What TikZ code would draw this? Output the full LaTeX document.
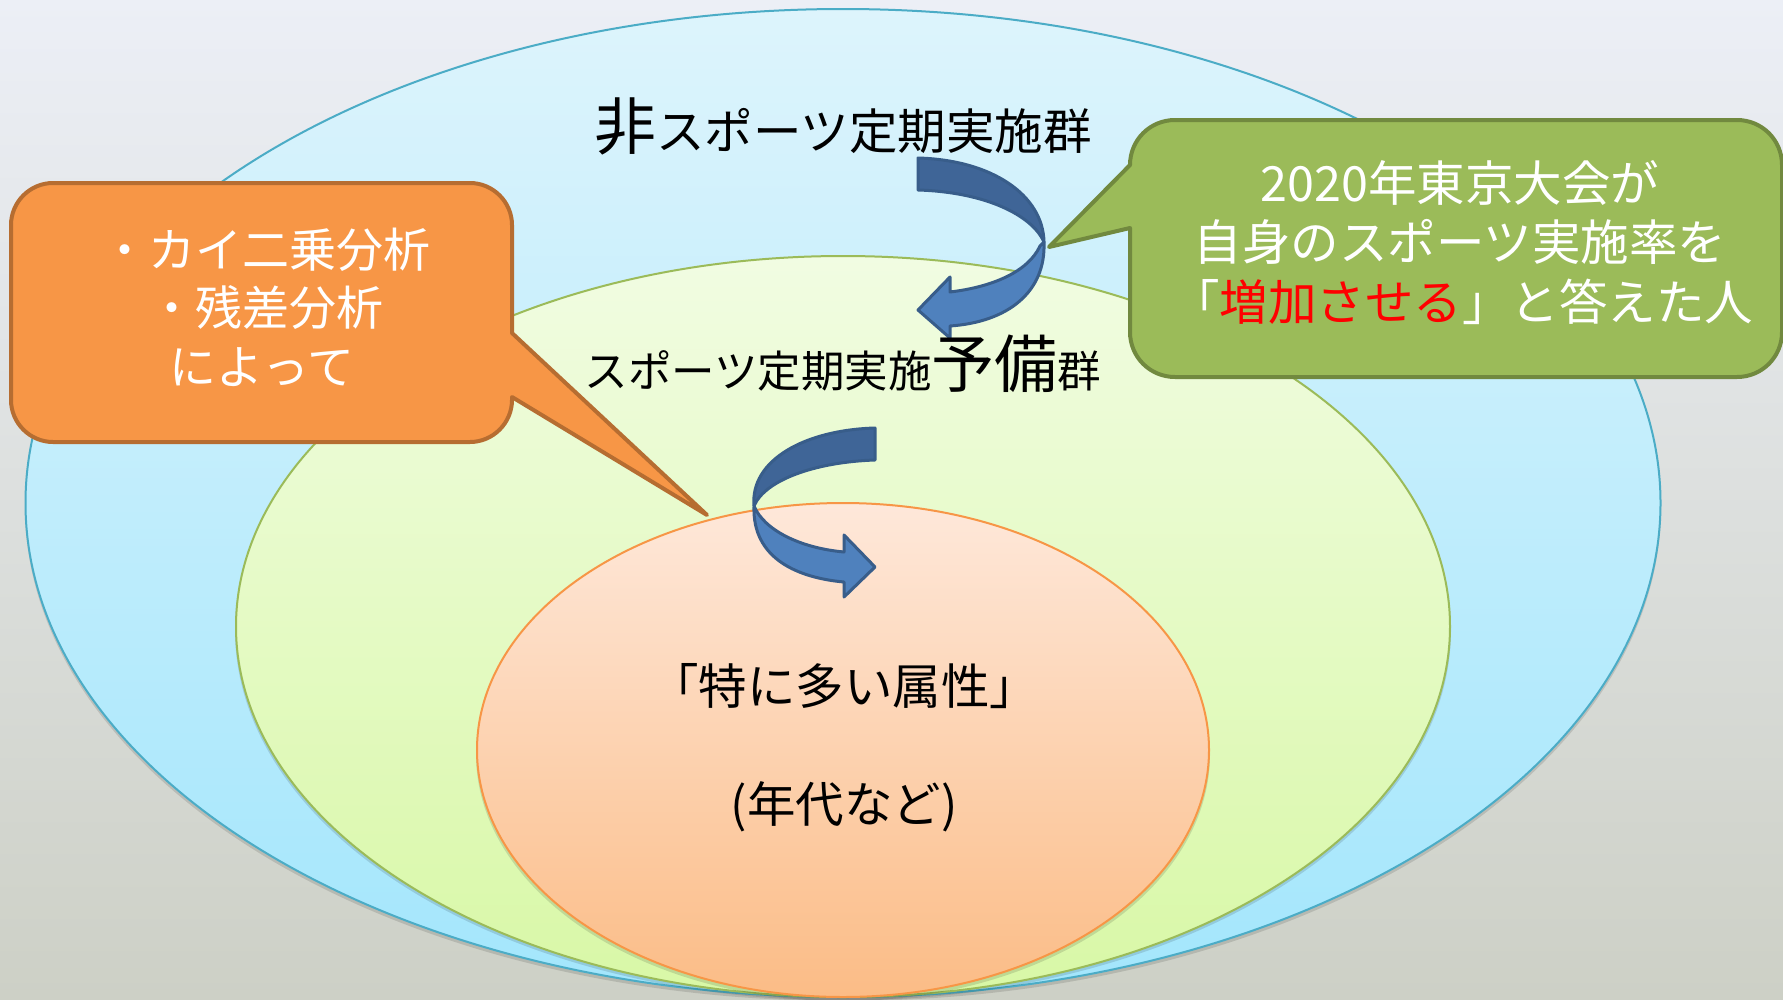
\documentclass[tikz,border=0pt]{standalone}
\usepackage{fontspec}
\setmainfont{Noto Sans CJK JP}
\definecolor{bgtop}{HTML}{ECEFF6}
\definecolor{bgbot}{HTML}{CDD0C6}
\definecolor{bluetop}{HTML}{DDF4FC}
\definecolor{bluebot}{HTML}{A3E6FC}
\definecolor{bluedraw}{HTML}{4BACC6}
\definecolor{greentop}{HTML}{F1FCE2}
\definecolor{greenbot}{HTML}{D8F8A6}
\definecolor{greendraw}{HTML}{9BBB59}
\definecolor{orangetop}{HTML}{FEE8DA}
\definecolor{orangebot}{HTML}{FBBC86}
\definecolor{orangedraw}{HTML}{F79646}
\definecolor{calloutO}{HTML}{F79646}
\definecolor{calloutOd}{HTML}{B66D31}
\definecolor{calloutG}{HTML}{9BBB59}
\definecolor{calloutGd}{HTML}{71893F}
\definecolor{arrowdark}{HTML}{3F6597}
\definecolor{arrowlight}{HTML}{4F81BD}
\definecolor{arrowline}{HTML}{385D8A}
\definecolor{redtext}{HTML}{FF0000}
\tikzset{
  ring/.style={line width=2pt},
  shadowring/.style={fill=black, opacity=0.12},
  blockarrow/.style={draw=arrowline, line width=3pt, line join=round},
  callout/.style={line width=4pt, line join=round},
  txt/.style={inner sep=0pt, anchor=base},
  wtxt/.style={txt, text=white, font=\fontsize{47}{59}\selectfont},
  gtxt/.style={txt, text=white, font=\fontsize{48.5}{59}\selectfont},
  btxt/.style={txt, text=black, font=\fontsize{48.5}{59}\selectfont}
}
\begin{document}
\begin{tikzpicture}[x=1pt,y=-1pt]
\useasboundingbox (0,0) rectangle (1783,999);
\clip (0,0) rectangle (1783,999);
% background
\path[top color=bgtop, bottom color=bgbot] (0,0) rectangle (1783,999);
% outer ellipse
\path[shadowring] (843,507) ellipse [x radius=818pt, y radius=494pt];
\path[ring, draw=bluedraw, top color=bluetop, bottom color=bluebot] (843,503) ellipse [x radius=817.5pt, y radius=494pt];
% middle ellipse
\path[shadowring] (843,630) ellipse [x radius=608pt, y radius=370.5pt];
\path[ring, draw=greendraw, top color=greentop, bottom color=greenbot] (843,626.5) ellipse [x radius=607pt, y radius=370.5pt];
% inner ellipse
\path[shadowring] (843,754) ellipse [x radius=367pt, y radius=247pt];
\path[ring, draw=orangedraw, top color=orangetop, bottom color=orangebot] (843,750) ellipse [x radius=366pt, y radius=247pt];

% curved arrow 1
\path[blockarrow, fill=arrowdark] (918,158) .. controls (992,160) and (1043,195) .. (1044,242)
  .. controls (1032,215) and (985,192) .. (918,190) -- cycle;
\path[blockarrow, fill=arrowlight] (1044,242) .. controls (1046,292) and (1008,322) .. (950,326)
  -- (950,338) -- (918,310) -- (950,277) -- (950,292)
  .. controls (992,287) and (1028,272) .. (1040,246) -- cycle;

% curved arrow 2
\path[blockarrow, fill=arrowdark] (875,428) -- (875,460) .. controls (815,462) and (765,480) .. (754,506)
  .. controls (750,460) and (805,430) .. (875,428) -- cycle;
\path[blockarrow, fill=arrowlight] (754,506) .. controls (752,560) and (800,578) .. (844,582)
  -- (844,597) -- (875,567) -- (844,535) -- (844,552)
  .. controls (800,548) and (764,530) .. (754,506) -- cycle;

% orange callout
\path[callout, fill=calloutO, draw=calloutOd]
  (53,183) -- (470,183) .. controls (493,183) and (512,202) .. (512,225)
  -- (512,333) -- (707,515) -- (512,397) -- (512,400)
  .. controls (512,423) and (493,442) .. (470,442) -- (53,442)
  .. controls (30,442) and (11,423) .. (11,400) -- (11,225)
  .. controls (11,202) and (30,183) .. (53,183) -- cycle;

% green callout
\path[callout, fill=calloutG, draw=calloutGd]
  (1175,120) -- (1737,120) .. controls (1762,120) and (1782,140) .. (1782,165)
  -- (1782,332) .. controls (1782,357) and (1762,377) .. (1737,377) -- (1175,377)
  .. controls (1150,377) and (1130,357) .. (1130,332) -- (1130,228) -- (1049,247)
  -- (1130,165) .. controls (1130,140) and (1150,120) .. (1175,120) -- cycle;

% texts
\node[txt] (t1) at (843,149) {{\fontsize{62}{62}\selectfont 非}{\fontsize{48.5}{48.5}\selectfont スポーツ定期実施群}};
\node[txt] (t2) at (843,387) {{\fontsize{43.5}{43.5}\selectfont スポーツ定期実施}{\fontsize{63}{63}\selectfont 予備}{\fontsize{43.5}{43.5}\selectfont 群}};

\node[wtxt] (o1) at (266,267) {・カイ二乗分析};
\node[wtxt] (o2) at (266,325) {・残差分析};
\node[wtxt] (o3) at (262,384) {によって};

\node[gtxt] (g1) at (1460,201) {2020年東京大会が};
\node[gtxt] (g2) at (1460,260) {自身のスポーツ実施率を};
\node[gtxt] (g3) at (1462,320) {「{\color{redtext}増加させる}」と答えた人};

\node[btxt] (c1) at (844,704) {「特に多い属性」};
\node[btxt] (c2) at (844,822) {(年代など)};
\end{tikzpicture}
\end{document}
